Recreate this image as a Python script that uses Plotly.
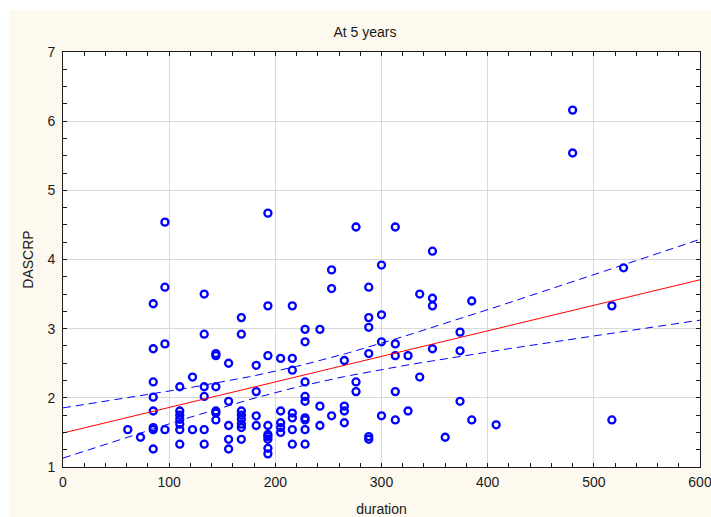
import numpy as np
import plotly.graph_objects as go

# Duration and DASCRP at 5 years, grouped by duration value
duration = (
    [61, 73]
    + [85] * 8
    + [96] * 4
    + [110] * 7
    + [122] * 2
    + [133] * 6
    + [144] * 6
    + [156] * 5
    + [168] * 8
    + [182] * 4
    + [193] * 9
    + [205] * 5
    + [216] * 7
    + [228] * 9
    + [242] * 3
    + [253] * 3
    + [265] * 4
    + [276] * 3
    + [288] * 6
    + [300] * 4
    + [313] * 5
    + [325] * 2
    + [336] * 2
    + [348] * 4
    + [360]
    + [374] * 3
    + [385] * 2
    + [408]
    + [480] * 2
    + [517] * 2
    + [528]
)

dascrp = [
    1.54, 1.43,
    3.36, 2.71, 2.23, 2.01, 1.81, 1.57, 1.54, 1.26,
    4.54, 3.60, 2.78, 1.54,
    2.16, 1.81, 1.75, 1.69, 1.62, 1.54, 1.33,
    2.30, 1.54,
    3.50, 2.92, 2.16, 2.02, 1.54, 1.33,
    2.64, 2.61, 2.16, 1.81, 1.78, 1.68,
    2.50, 1.95, 1.60, 1.40, 1.26,
    3.16, 2.92, 1.81, 1.75, 1.69, 1.62, 1.57, 1.40,
    2.47, 2.09, 1.74, 1.60,
    4.67, 3.33, 2.61, 1.60, 1.47, 1.44, 1.40, 1.27, 1.19,
    2.57, 1.81, 1.64, 1.57, 1.50,
    3.33, 2.57, 2.40, 1.78, 1.71, 1.54, 1.33,
    2.99, 2.81, 2.23, 2.02, 1.95, 1.71, 1.68, 1.54, 1.33,
    2.99, 1.88, 1.60,
    3.85, 3.58, 1.74,
    2.54, 1.88, 1.81, 1.64,
    4.47, 2.23, 2.09,
    3.60, 3.16, 3.02, 2.64, 1.44, 1.40,
    3.92, 3.20, 2.81, 1.74,
    4.47, 2.78, 2.61, 2.09, 1.68,
    2.61, 1.81,
    3.50, 2.30,
    4.12, 3.44, 3.33, 2.71,
    1.43,
    2.95, 2.68, 1.95,
    3.40, 1.68,
    1.61,
    6.16, 5.54,
    3.33, 1.68,
    3.88,
]

x_range = [0, 600]
y_range = [1, 7]

# Least-squares fit with a 95% confidence band for the mean
x = np.asarray(duration, dtype=float)
y = np.asarray(dascrp, dtype=float)
n = len(x)
slope, intercept = np.polyfit(x, y, 1)
resid = y - (intercept + slope * x)
s = np.sqrt(np.sum(resid ** 2) / (n - 2))
sxx = np.sum((x - x.mean()) ** 2)
t_crit = 1.976

xs = np.linspace(x_range[0], x_range[1], 121)
fit = intercept + slope * xs
half = t_crit * s * np.sqrt(1.0 / n + (xs - x.mean()) ** 2 / sxx)

blue = "#0000FF"
red = "#FF0000"
cream = "#FDF9EE"
ink = "#1A1A1A"
font = "Liberation Sans, Arial, sans-serif"

fig = go.Figure()
fig.add_trace(go.Scatter(
    x=duration, y=dascrp, mode="markers",
    marker=dict(symbol="circle-open", size=7, color=blue,
                line=dict(color=blue, width=2.3)),
    hoverinfo="x+y", showlegend=False,
))
fig.add_trace(go.Scatter(x=xs, y=fit, mode="lines",
                         line=dict(color=red, width=1), showlegend=False))
fig.add_trace(go.Scatter(x=xs, y=fit + half, mode="lines",
                         line=dict(color=blue, width=1, dash="8px,5px"),
                         showlegend=False))
fig.add_trace(go.Scatter(x=xs, y=fit - half, mode="lines",
                         line=dict(color=blue, width=1, dash="8px,5px"),
                         showlegend=False))

axis_common = dict(
    showgrid=True, gridcolor="#D9D9D9", gridwidth=1,
    showline=True, linecolor=ink, linewidth=1, mirror="allticks",
    ticks="inside", ticklen=4, tickcolor=ink, tickwidth=1,
    zeroline=False, automargin=False, ticklabeloverflow="allow",
    tickfont=dict(family=font, size=14, color=ink),
)

fig.update_layout(
    width=711, height=517,
    margin=dict(l=63, r=11, t=52, b=50, pad=0),
    paper_bgcolor=cream, plot_bgcolor="white",
    title=dict(text="At 5 years", x=0.474, xref="paper", xanchor="center",
               y=1 - 32 / 517, yref="container", yanchor="middle",
               font=dict(family=font, size=14, color=ink)),
    xaxis=dict(range=x_range, dtick=100, tick0=0, ticklabelstandoff=2,
               minor=dict(dtick=20, ticks="inside", ticklen=4,
                          tickcolor=ink, showgrid=False),
               title=dict(text="duration", standoff=18,
                          font=dict(family=font, size=14, color=ink)),
               **axis_common),
    yaxis=dict(range=y_range, dtick=1, tick0=0, ticklabelstandoff=4,
               minor=dict(dtick=0.25, ticks="inside", ticklen=4,
                          tickcolor=ink, showgrid=False),
               title=dict(text="DASCRP", standoff=10,
                          font=dict(family=font, size=14, color=ink)),
               **axis_common),
    shapes=[
        # white strips at the top and left edge of the page
        dict(type="rect", xref="paper", yref="paper", layer="below",
             x0=-0.2, x1=1.2, y0=(467 - 10) / 415, y1=1.3,
             fillcolor="white", line=dict(width=0)),
        dict(type="rect", xref="paper", yref="paper", layer="below",
             x0=-0.2, x1=(9 - 63) / 637, y0=-0.3, y1=1.3,
             fillcolor="white", line=dict(width=0)),
    ],
    font=dict(family=font),
)

fig.write_html("out.html")
